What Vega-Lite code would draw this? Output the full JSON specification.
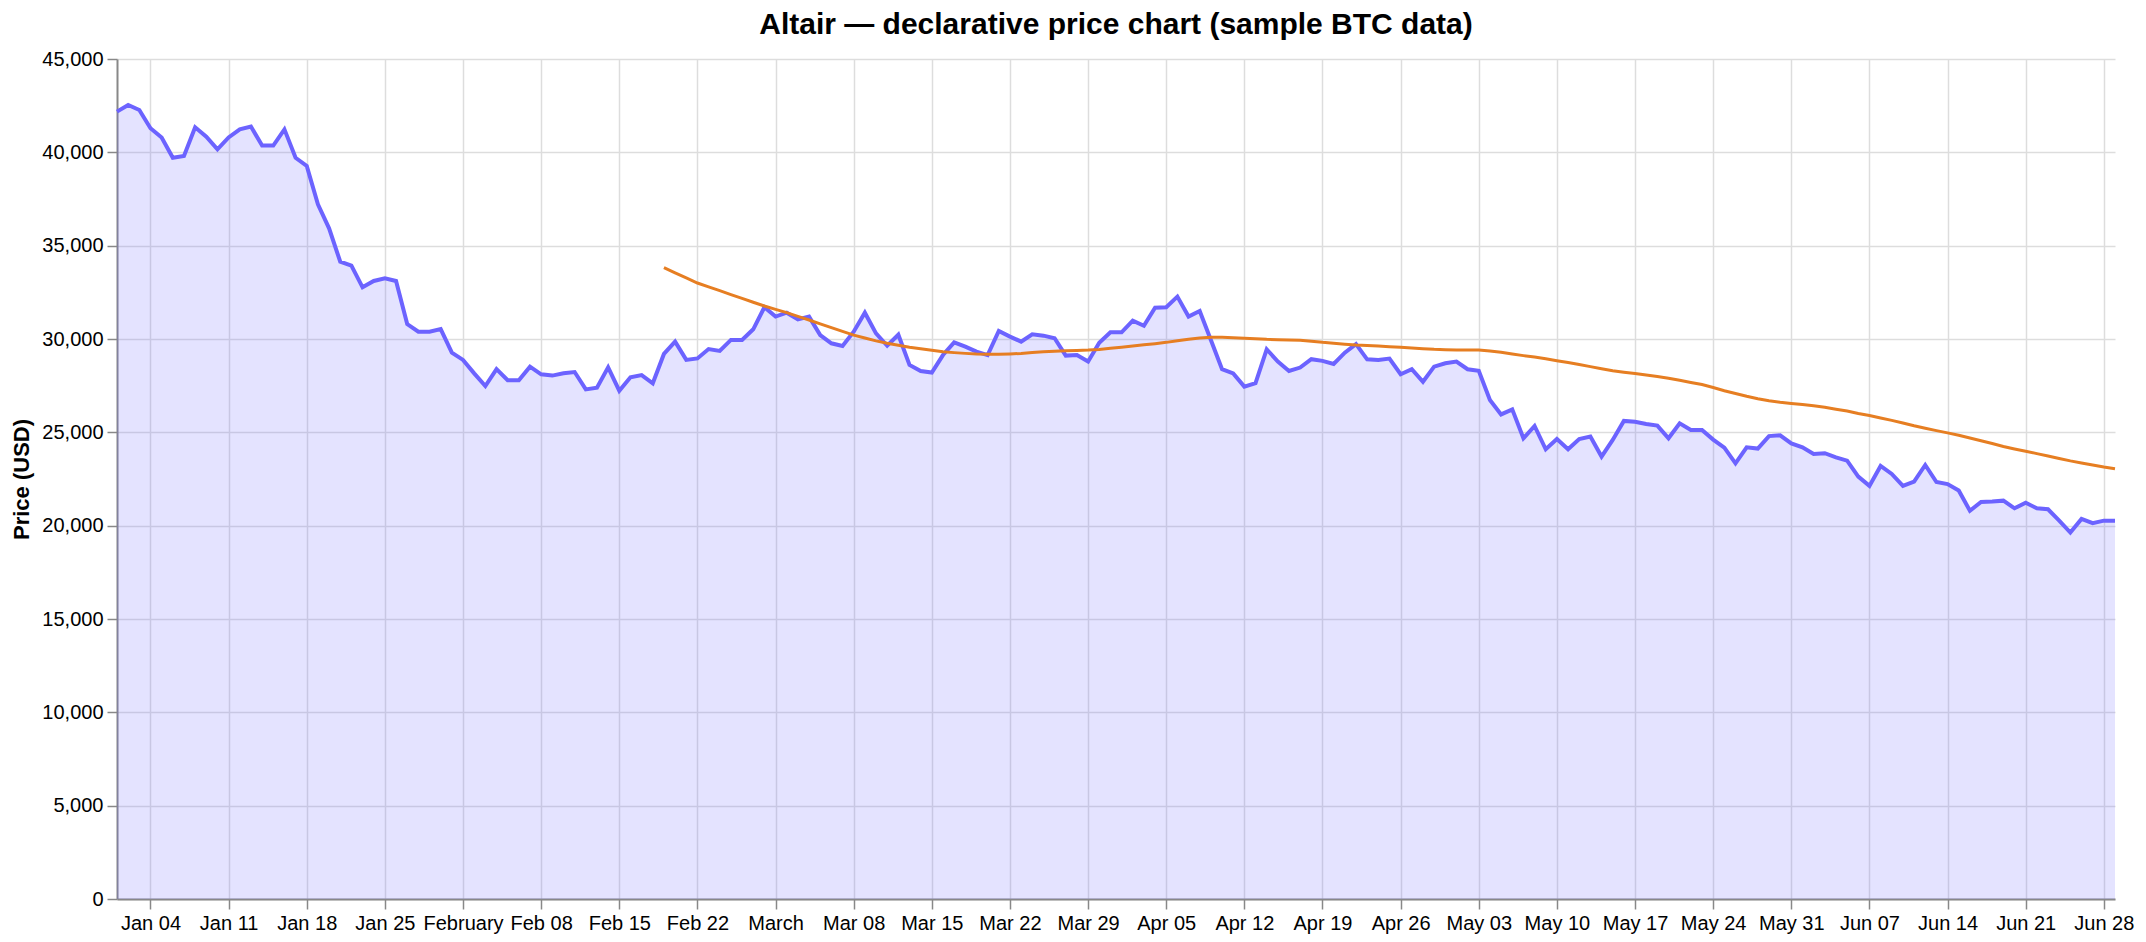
{
  "$schema": "https://vega.github.io/schema/vega-lite/v6.json",
  "width": 1998,
  "height": 840,
  "padding": 10,
  "title": {"text": "Altair — declarative price chart (sample BTC data)", "fontSize": 30, "fontWeight": "bold", "offset": 9, "anchor": "middle"},
  "datasets": {
    "btc": [
      {"date":"2026-01-01T00:00","price":42180},{"date":"2026-01-02T00:00","price":42540},{"date":"2026-01-03T00:00","price":42270},{"date":"2026-01-04T00:00","price":41290},{"date":"2026-01-05T00:00","price":40790},{"date":"2026-01-06T00:00","price":39710},{"date":"2026-01-07T00:00","price":39800},{"date":"2026-01-08T00:00","price":41340},{"date":"2026-01-09T00:00","price":40840},{"date":"2026-01-10T00:00","price":40160},
      {"date":"2026-01-11T00:00","price":40800},{"date":"2026-01-12T00:00","price":41230},{"date":"2026-01-13T00:00","price":41380},{"date":"2026-01-14T00:00","price":40360},{"date":"2026-01-15T00:00","price":40360},{"date":"2026-01-16T00:00","price":41230},{"date":"2026-01-17T00:00","price":39710},{"date":"2026-01-18T00:00","price":39270},{"date":"2026-01-19T00:00","price":37210},{"date":"2026-01-20T00:00","price":35930},
      {"date":"2026-01-21T00:00","price":34140},{"date":"2026-01-22T00:00","price":33930},{"date":"2026-01-23T00:00","price":32770},{"date":"2026-01-24T00:00","price":33110},{"date":"2026-01-25T00:00","price":33250},{"date":"2026-01-26T00:00","price":33110},{"date":"2026-01-27T00:00","price":30800},{"date":"2026-01-28T00:00","price":30390},{"date":"2026-01-29T00:00","price":30390},{"date":"2026-01-30T00:00","price":30530},
      {"date":"2026-01-31T00:00","price":29270},{"date":"2026-02-01T00:00","price":28880},{"date":"2026-02-02T00:00","price":28160},{"date":"2026-02-03T00:00","price":27480},{"date":"2026-02-04T00:00","price":28390},{"date":"2026-02-05T00:00","price":27790},{"date":"2026-02-06T00:00","price":27790},{"date":"2026-02-07T00:00","price":28520},{"date":"2026-02-08T00:00","price":28110},{"date":"2026-02-09T00:00","price":28040},
      {"date":"2026-02-10T00:00","price":28160},{"date":"2026-02-11T00:00","price":28230},{"date":"2026-02-12T00:00","price":27300},{"date":"2026-02-13T00:00","price":27390},{"date":"2026-02-14T00:00","price":28480},{"date":"2026-02-15T00:00","price":27230},{"date":"2026-02-16T00:00","price":27950},{"date":"2026-02-17T00:00","price":28070},{"date":"2026-02-18T00:00","price":27630},{"date":"2026-02-19T00:00","price":29200},
      {"date":"2026-02-20T00:00","price":29860},{"date":"2026-02-21T00:00","price":28880},{"date":"2026-02-22T00:00","price":28960},{"date":"2026-02-23T00:00","price":29460},{"date":"2026-02-24T00:00","price":29360},{"date":"2026-02-25T00:00","price":29950},{"date":"2026-02-26T00:00","price":29950},{"date":"2026-02-27T00:00","price":30520},{"date":"2026-02-28T00:00","price":31700},{"date":"2026-03-01T00:00","price":31200},
      {"date":"2026-03-02T00:00","price":31410},{"date":"2026-03-03T00:00","price":31050},{"date":"2026-03-04T00:00","price":31200},{"date":"2026-03-05T00:00","price":30210},{"date":"2026-03-06T00:00","price":29770},{"date":"2026-03-07T00:00","price":29630},{"date":"2026-03-08T00:00","price":30390},{"date":"2026-03-09T00:00","price":31410},{"date":"2026-03-10T00:00","price":30300},{"date":"2026-03-11T00:00","price":29640},
      {"date":"2026-03-12T00:00","price":30230},{"date":"2026-03-13T00:00","price":28610},{"date":"2026-03-14T00:00","price":28280},{"date":"2026-03-15T00:00","price":28200},{"date":"2026-03-16T00:00","price":29140},{"date":"2026-03-17T00:00","price":29820},{"date":"2026-03-18T00:00","price":29590},{"date":"2026-03-19T00:00","price":29320},{"date":"2026-03-20T00:00","price":29140},{"date":"2026-03-21T00:00","price":30430},
      {"date":"2026-03-22T00:00","price":30130},{"date":"2026-03-23T00:00","price":29860},{"date":"2026-03-24T00:00","price":30250},{"date":"2026-03-25T00:00","price":30180},{"date":"2026-03-26T00:00","price":30040},{"date":"2026-03-27T00:00","price":29110},{"date":"2026-03-28T00:00","price":29140},{"date":"2026-03-29T00:00","price":28790},{"date":"2026-03-30T00:00","price":29800},{"date":"2026-03-31T00:00","price":30360},
      {"date":"2026-04-01T00:00","price":30360},{"date":"2026-04-02T00:00","price":30980},{"date":"2026-04-03T00:00","price":30710},{"date":"2026-04-04T00:00","price":31680},{"date":"2026-04-05T00:00","price":31700},{"date":"2026-04-06T00:00","price":32270},{"date":"2026-04-07T00:00","price":31200},{"date":"2026-04-08T00:00","price":31500},{"date":"2026-04-09T00:00","price":29950},{"date":"2026-04-10T00:00","price":28380},
      {"date":"2026-04-11T00:00","price":28160},{"date":"2026-04-12T00:00","price":27450},{"date":"2026-04-13T00:00","price":27630},{"date":"2026-04-14T00:00","price":29450},{"date":"2026-04-15T00:00","price":28790},{"date":"2026-04-16T00:00","price":28290},{"date":"2026-04-17T00:00","price":28470},{"date":"2026-04-18T00:00","price":28920},{"date":"2026-04-19T00:00","price":28830},{"date":"2026-04-20T00:00","price":28660},
      {"date":"2026-04-21T00:00","price":29270},{"date":"2026-04-22T00:00","price":29730},{"date":"2026-04-23T00:00","price":28910},{"date":"2026-04-24T00:00","price":28880},{"date":"2026-04-25T00:00","price":28950},{"date":"2026-04-26T00:00","price":28110},{"date":"2026-04-27T00:00","price":28380},{"date":"2026-04-28T00:00","price":27710},{"date":"2026-04-29T00:00","price":28520},{"date":"2026-04-30T00:00","price":28700},
      {"date":"2026-05-01T00:00","price":28790},{"date":"2026-05-02T00:00","price":28380},{"date":"2026-05-03T00:00","price":28300},{"date":"2026-05-04T00:00","price":26730},{"date":"2026-05-05T00:00","price":25960},{"date":"2026-05-06T00:00","price":26230},{"date":"2026-05-07T00:00","price":24680},{"date":"2026-05-08T00:00","price":25340},{"date":"2026-05-09T00:00","price":24090},{"date":"2026-05-10T00:00","price":24640},
      {"date":"2026-05-11T00:00","price":24090},{"date":"2026-05-12T00:00","price":24640},{"date":"2026-05-13T00:00","price":24770},{"date":"2026-05-14T00:00","price":23700},{"date":"2026-05-15T00:00","price":24590},{"date":"2026-05-16T00:00","price":25610},{"date":"2026-05-17T00:00","price":25570},{"date":"2026-05-18T00:00","price":25450},{"date":"2026-05-19T00:00","price":25360},{"date":"2026-05-20T00:00","price":24680},
      {"date":"2026-05-21T00:00","price":25480},{"date":"2026-05-22T00:00","price":25130},{"date":"2026-05-23T00:00","price":25130},{"date":"2026-05-24T00:00","price":24610},{"date":"2026-05-25T00:00","price":24180},{"date":"2026-05-26T00:00","price":23340},{"date":"2026-05-27T00:00","price":24200},{"date":"2026-05-28T00:00","price":24130},{"date":"2026-05-29T00:00","price":24800},{"date":"2026-05-30T00:00","price":24840},
      {"date":"2026-05-31T00:00","price":24410},{"date":"2026-06-01T00:00","price":24200},{"date":"2026-06-02T00:00","price":23840},{"date":"2026-06-03T00:00","price":23880},{"date":"2026-06-04T00:00","price":23660},{"date":"2026-06-05T00:00","price":23480},{"date":"2026-06-06T00:00","price":22630},{"date":"2026-06-07T00:00","price":22130},{"date":"2026-06-08T00:00","price":23200},{"date":"2026-06-09T00:00","price":22770},
      {"date":"2026-06-10T00:00","price":22130},{"date":"2026-06-11T00:00","price":22360},{"date":"2026-06-12T00:00","price":23250},{"date":"2026-06-13T00:00","price":22340},{"date":"2026-06-14T00:00","price":22230},{"date":"2026-06-15T00:00","price":21880},{"date":"2026-06-16T00:00","price":20800},{"date":"2026-06-17T00:00","price":21270},{"date":"2026-06-18T00:00","price":21290},{"date":"2026-06-19T00:00","price":21340},
      {"date":"2026-06-20T00:00","price":20930},{"date":"2026-06-21T00:00","price":21230},{"date":"2026-06-22T00:00","price":20930},{"date":"2026-06-23T00:00","price":20880},{"date":"2026-06-24T00:00","price":20270},{"date":"2026-06-25T00:00","price":19630},{"date":"2026-06-26T00:00","price":20360},{"date":"2026-06-27T00:00","price":20130},{"date":"2026-06-28T00:00","price":20270},{"date":"2026-06-29T00:00","price":20270}
    ],
    "ma": [
      {"date":"2026-02-19T00:00","ma50":33820},{"date":"2026-02-20T00:00","ma50":33540},{"date":"2026-02-21T00:00","ma50":33270},{"date":"2026-02-22T00:00","ma50":33000},{"date":"2026-02-23T00:00","ma50":32790},{"date":"2026-02-24T00:00","ma50":32590},{"date":"2026-02-25T00:00","ma50":32380},{"date":"2026-02-26T00:00","ma50":32180},{"date":"2026-02-27T00:00","ma50":31970},{"date":"2026-02-28T00:00","ma50":31770},
      {"date":"2026-03-01T00:00","ma50":31590},{"date":"2026-03-02T00:00","ma50":31410},{"date":"2026-03-03T00:00","ma50":31210},{"date":"2026-03-04T00:00","ma50":31020},{"date":"2026-03-05T00:00","ma50":30810},{"date":"2026-03-06T00:00","ma50":30610},{"date":"2026-03-07T00:00","ma50":30410},{"date":"2026-03-08T00:00","ma50":30210},{"date":"2026-03-09T00:00","ma50":30050},{"date":"2026-03-10T00:00","ma50":29900},
      {"date":"2026-03-11T00:00","ma50":29770},{"date":"2026-03-12T00:00","ma50":29660},{"date":"2026-03-13T00:00","ma50":29560},{"date":"2026-03-14T00:00","ma50":29480},{"date":"2026-03-15T00:00","ma50":29400},{"date":"2026-03-16T00:00","ma50":29320},{"date":"2026-03-17T00:00","ma50":29270},{"date":"2026-03-18T00:00","ma50":29230},{"date":"2026-03-19T00:00","ma50":29200},{"date":"2026-03-20T00:00","ma50":29185},
      {"date":"2026-03-21T00:00","ma50":29180},{"date":"2026-03-22T00:00","ma50":29200},{"date":"2026-03-23T00:00","ma50":29225},{"date":"2026-03-24T00:00","ma50":29275},{"date":"2026-03-25T00:00","ma50":29320},{"date":"2026-03-26T00:00","ma50":29350},{"date":"2026-03-27T00:00","ma50":29375},{"date":"2026-03-28T00:00","ma50":29390},{"date":"2026-03-29T00:00","ma50":29405},{"date":"2026-03-30T00:00","ma50":29440},
      {"date":"2026-03-31T00:00","ma50":29500},{"date":"2026-04-01T00:00","ma50":29560},{"date":"2026-04-02T00:00","ma50":29620},{"date":"2026-04-03T00:00","ma50":29690},{"date":"2026-04-04T00:00","ma50":29750},{"date":"2026-04-05T00:00","ma50":29820},{"date":"2026-04-06T00:00","ma50":29910},{"date":"2026-04-07T00:00","ma50":29990},{"date":"2026-04-08T00:00","ma50":30050},{"date":"2026-04-09T00:00","ma50":30100},
      {"date":"2026-04-10T00:00","ma50":30090},{"date":"2026-04-11T00:00","ma50":30070},{"date":"2026-04-12T00:00","ma50":30040},{"date":"2026-04-13T00:00","ma50":30010},{"date":"2026-04-14T00:00","ma50":29980},{"date":"2026-04-15T00:00","ma50":29965},{"date":"2026-04-16T00:00","ma50":29950},{"date":"2026-04-17T00:00","ma50":29930},{"date":"2026-04-18T00:00","ma50":29880},{"date":"2026-04-19T00:00","ma50":29820},
      {"date":"2026-04-20T00:00","ma50":29775},{"date":"2026-04-21T00:00","ma50":29725},{"date":"2026-04-22T00:00","ma50":29680},{"date":"2026-04-23T00:00","ma50":29650},{"date":"2026-04-24T00:00","ma50":29620},{"date":"2026-04-25T00:00","ma50":29585},{"date":"2026-04-26T00:00","ma50":29555},{"date":"2026-04-27T00:00","ma50":29520},{"date":"2026-04-28T00:00","ma50":29480},{"date":"2026-04-29T00:00","ma50":29445},
      {"date":"2026-04-30T00:00","ma50":29425},{"date":"2026-05-01T00:00","ma50":29410},{"date":"2026-05-02T00:00","ma50":29410},{"date":"2026-05-03T00:00","ma50":29410},{"date":"2026-05-04T00:00","ma50":29360},{"date":"2026-05-05T00:00","ma50":29290},{"date":"2026-05-06T00:00","ma50":29200},{"date":"2026-05-07T00:00","ma50":29110},{"date":"2026-05-08T00:00","ma50":29030},{"date":"2026-05-09T00:00","ma50":28940},
      {"date":"2026-05-10T00:00","ma50":28840},{"date":"2026-05-11T00:00","ma50":28740},{"date":"2026-05-12T00:00","ma50":28630},{"date":"2026-05-13T00:00","ma50":28520},{"date":"2026-05-14T00:00","ma50":28410},{"date":"2026-05-15T00:00","ma50":28300},{"date":"2026-05-16T00:00","ma50":28220},{"date":"2026-05-17T00:00","ma50":28150},{"date":"2026-05-18T00:00","ma50":28070},{"date":"2026-05-19T00:00","ma50":27990},
      {"date":"2026-05-20T00:00","ma50":27900},{"date":"2026-05-21T00:00","ma50":27790},{"date":"2026-05-22T00:00","ma50":27670},{"date":"2026-05-23T00:00","ma50":27560},{"date":"2026-05-24T00:00","ma50":27400},{"date":"2026-05-25T00:00","ma50":27230},{"date":"2026-05-26T00:00","ma50":27080},{"date":"2026-05-27T00:00","ma50":26930},{"date":"2026-05-28T00:00","ma50":26800},{"date":"2026-05-29T00:00","ma50":26690},
      {"date":"2026-05-30T00:00","ma50":26610},{"date":"2026-05-31T00:00","ma50":26550},{"date":"2026-06-01T00:00","ma50":26490},{"date":"2026-06-02T00:00","ma50":26420},{"date":"2026-06-03T00:00","ma50":26340},{"date":"2026-06-04T00:00","ma50":26240},{"date":"2026-06-05T00:00","ma50":26140},{"date":"2026-06-06T00:00","ma50":26010},{"date":"2026-06-07T00:00","ma50":25900},{"date":"2026-06-08T00:00","ma50":25770},
      {"date":"2026-06-09T00:00","ma50":25640},{"date":"2026-06-10T00:00","ma50":25500},{"date":"2026-06-11T00:00","ma50":25350},{"date":"2026-06-12T00:00","ma50":25220},{"date":"2026-06-13T00:00","ma50":25090},{"date":"2026-06-14T00:00","ma50":24970},{"date":"2026-06-15T00:00","ma50":24840},{"date":"2026-06-16T00:00","ma50":24700},{"date":"2026-06-17T00:00","ma50":24550},{"date":"2026-06-18T00:00","ma50":24400},
      {"date":"2026-06-19T00:00","ma50":24240},{"date":"2026-06-20T00:00","ma50":24110},{"date":"2026-06-21T00:00","ma50":23990},{"date":"2026-06-22T00:00","ma50":23860},{"date":"2026-06-23T00:00","ma50":23730},{"date":"2026-06-24T00:00","ma50":23600},{"date":"2026-06-25T00:00","ma50":23470},{"date":"2026-06-26T00:00","ma50":23360},{"date":"2026-06-27T00:00","ma50":23250},{"date":"2026-06-28T00:00","ma50":23140},
      {"date":"2026-06-29T00:00","ma50":23050}
    ]
  },
  "layer": [
    {
      "data": {"name": "btc"},
      "mark": {"type": "area", "color": "#6c63ff", "opacity": 0.18},
      "encoding": {
        "x": {"field": "date", "type": "temporal", "axis": {"title": null, "tickCount": {"interval": "week", "step": 1}}},
        "y": {"field": "price", "type": "quantitative", "scale": {"domain": [0, 45000]}, "axis": {"title": "Price (USD)", "tickCount": 10}}
      }
    },
    {
      "data": {"name": "btc"},
      "mark": {"type": "line", "color": "#6c63ff", "strokeWidth": 4},
      "encoding": {
        "x": {"field": "date", "type": "temporal"},
        "y": {"field": "price", "type": "quantitative"}
      }
    },
    {
      "data": {"name": "ma"},
      "mark": {"type": "line", "color": "#e67e22", "strokeWidth": 3},
      "encoding": {
        "x": {"field": "date", "type": "temporal"},
        "y": {"field": "ma50", "type": "quantitative"}
      }
    }
  ],
  "config": {
    "font": "Liberation Sans",
    "view": {"stroke": null},
    "axis": {
      "labelFontSize": 20,
      "titleFontSize": 22,
      "titleFontWeight": "bold",
      "tickSize": 10,
      "tickWidth": 1.5,
      "domainWidth": 2,
      "gridWidth": 1.5,
      "labelPadding": 4,
      "titlePadding": 8,
      "labelColor": "#000",
      "titleColor": "#000"
    },
    "title": {"color": "#000"}
  }
}
